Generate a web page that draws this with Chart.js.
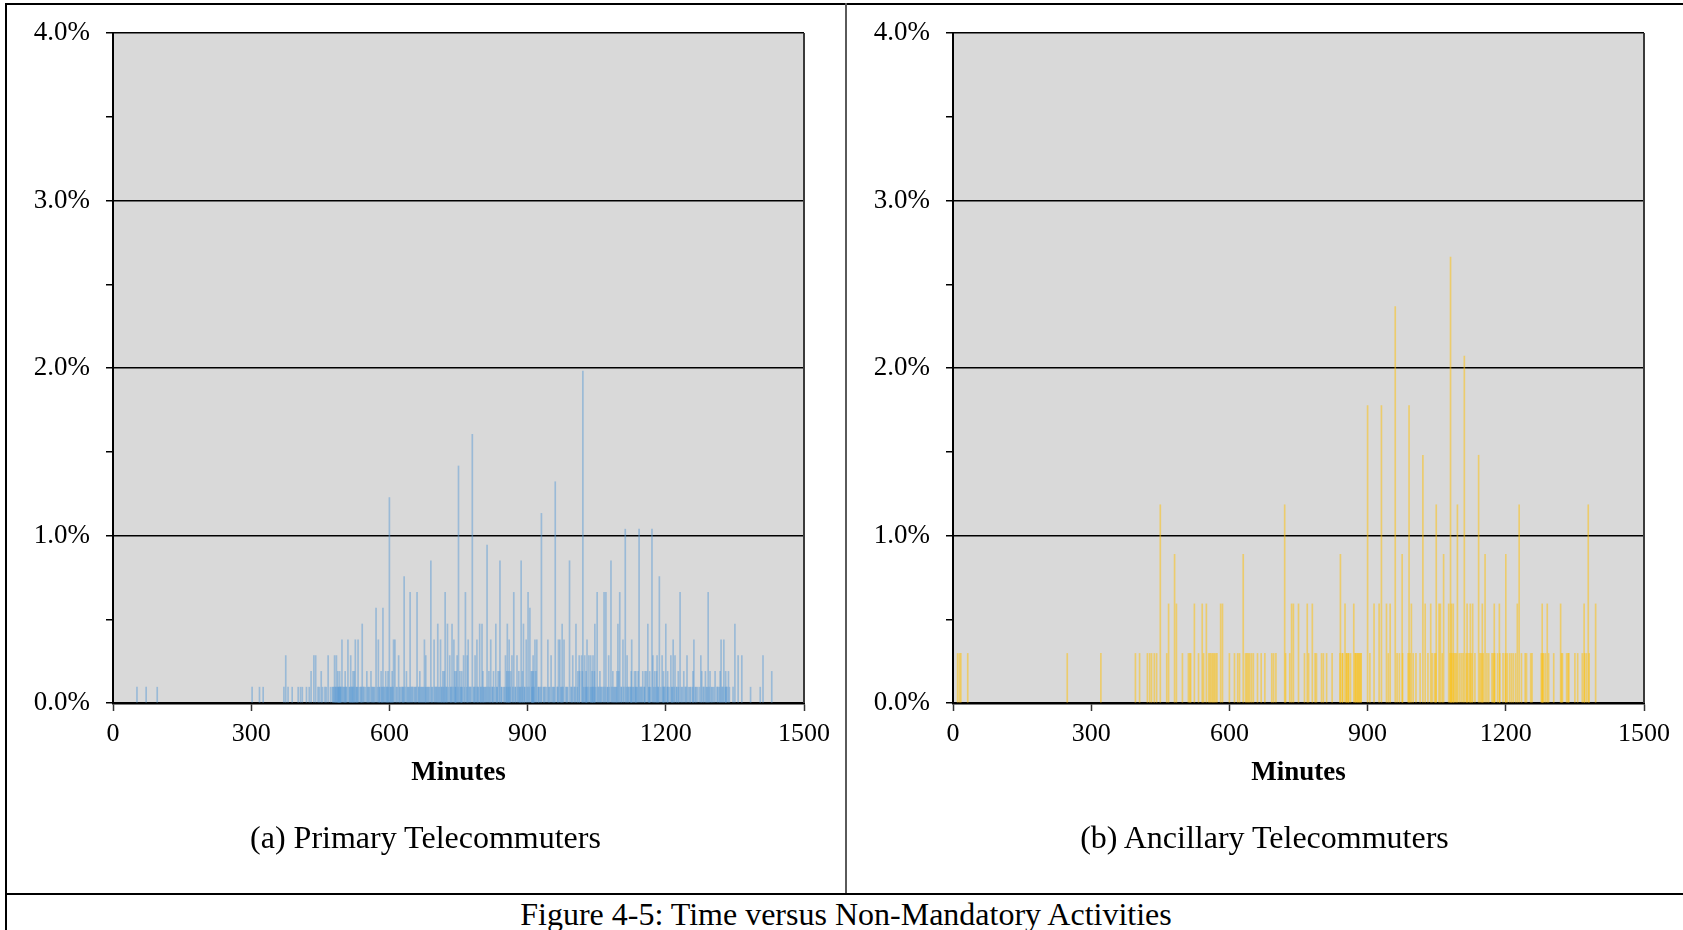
<!DOCTYPE html>
<html>
<head>
<meta charset="utf-8">
<script src="https://cdn.jsdelivr.net/npm/chart.js@4/dist/chart.umd.min.js"></script>
<style>
    body { margin: 0; background: #fff; }
    #page { position: relative; width: 1683px; height: 930px; overflow: hidden; font-family: 'Liberation Serif', 'Times New Roman', serif; }
    canvas { position: absolute; top: 0; }
    .rule { position: absolute; background: #000; z-index: 2; }
    .label { position: absolute; text-align: center; font-size: 32px; line-height: 32px; color: #000; z-index: 2; }
</style>
</head>
<body>
<div id="page">
    <canvas id="primary-chart" width="846" height="789" style="left: 0;"></canvas>
    <canvas id="ancillary-chart" width="837" height="789" style="left: 846px;"></canvas>

    <div class="rule" style="left: 5px; top: 3px; width: 1678px; height: 1.5px;"></div>
    <div class="rule" style="left: 5px; top: 3px; width: 1.5px; height: 927px;"></div>
    <div class="rule" style="left: 845px; top: 3px; width: 2px; height: 891px; background: #5a5a5a;"></div>
    <div class="rule" style="left: 5px; top: 893px; width: 1678px; height: 2px;"></div>

    <div class="label" style="left: 5px; top: 821px; width: 841px;">(a) Primary Telecommuters</div>
    <div class="label" style="left: 846px; top: 821px; width: 837px;">(b) Ancillary Telecommuters</div>
    <div class="label" style="left: 346px; top: 898px; width: 1000px;">Figure 4-5: Time versus Non-Mandatory Activities</div>
</div>

<script>
// axis ticks
const minuteTicks = [0, 300, 600, 900, 1200, 1500];
const pctTicks = [0, 0.5, 1, 1.5, 2, 2.5, 3, 3.5, 4];

// Primary telecommuters: respondents per minute (sample ~1060)
const primarySample = 1060;
const primaryOnes = [
    52, 72, 96, 302, 318, 326, 371, 380, 389, 402, 407, 411, 420, 426, 445, 448, 455, 460, 463, 472, 476,
    478, 480, 483, 484, 487, 489, 490, 491, 493, 494, 495, 499, 501, 503, 506, 507, 513, 514, 517, 519, 520,
    523, 528, 529, 531, 535, 538, 539, 543, 545, 548, 553, 555, 557, 562, 564, 566, 568, 574, 578, 579, 583,
    585, 588, 590, 594, 595, 598, 602, 603, 605, 608, 615, 617, 622, 624, 627, 629, 630, 634, 639, 641, 643,
    647, 649, 651, 654, 656, 658, 663, 664, 668, 670, 672, 674, 678, 681, 683, 685, 687, 692, 694, 699, 701,
    703, 707, 709, 713, 714, 718, 723, 724, 728, 733, 734, 738, 743, 744, 749, 754, 756, 758, 763, 768, 773,
    775, 777, 783, 784, 788, 792, 793, 798, 799, 804, 806, 808, 810, 814, 818, 823, 824, 828, 833, 834, 836,
    843, 844, 848, 850, 854, 858, 862, 863, 868, 873, 874, 879, 883, 884, 888, 893, 894, 899, 903, 909, 911,
    914, 918, 923, 924, 926, 929, 934, 936, 938, 941, 946, 948, 954, 956, 958, 964, 966, 972, 974, 977, 983,
    985, 987, 994, 996, 1001, 1003, 1008, 1009, 1013, 1019, 1022, 1026, 1028, 1031, 1036, 1039, 1041, 1044,
    1048, 1053, 1055, 1059, 1061, 1064, 1068, 1073, 1074, 1078, 1083, 1087, 1089, 1091, 1093, 1098, 1103,
    1104, 1109, 1114, 1118, 1119, 1122, 1124, 1128, 1130, 1134, 1136, 1138, 1144, 1146, 1148, 1153, 1154,
    1158, 1163, 1164, 1167, 1174, 1176, 1178, 1183, 1184, 1189, 1194, 1196, 1198, 1203, 1205, 1208, 1213,
    1214, 1218, 1223, 1224, 1228, 1234, 1236, 1242, 1244, 1249, 1252, 1254, 1258, 1264, 1266, 1269, 1273,
    1281, 1283, 1288, 1290, 1294, 1299, 1301, 1304, 1311, 1313, 1316, 1322, 1324, 1329, 1331, 1333, 1338,
    1346, 1384, 1405
];
const primaryTwos = [
    430, 452, 488, 492, 504, 521, 524, 551, 560, 582, 592, 597, 606, 637, 666, 716, 719, 742, 745, 753, 757,
    803, 816, 826, 836, 839, 855, 859, 863, 881, 889, 908, 910, 913, 918, 1009, 1013, 1019, 1027, 1040, 1045,
    1057, 1085, 1094, 1098, 1125, 1132, 1135, 1140, 1150, 1155, 1158, 1165, 1176, 1180, 1195, 1204, 1227,
    1239, 1259, 1278, 1286, 1296, 1307, 1318, 1330, 1336, 1430
];
const primaryThrees = [
    375, 436, 440, 467, 481, 485, 516, 620, 679, 731, 747, 761, 769, 786, 852, 866, 877, 912, 951, 998, 1012,
    1017, 1024, 1033, 1037, 1042, 1076, 1116, 1172, 1181, 1192, 1211, 1220, 1246, 1276, 1357, 1365, 1411
];
const primaryFours = [
    497, 510, 526, 532, 576, 609, 612, 676, 697, 711, 740, 771, 790, 820, 860, 897, 916, 920, 944, 967, 970,
    979, 1029, 1107, 1126, 1216, 1261, 1320, 1326
];
const primaryFives = [541, 705, 726, 736, 796, 801, 831, 856, 891, 975, 1005, 1046, 1096, 1161, 1200, 1350];
const primaryTall = [
    [571, 6], [586, 6], [905, 6], [645, 7], [660, 7], [721, 7], [765, 7], [870, 7], [901, 7], [1051, 7],
    [1066, 7], [1070, 7], [1100, 7], [1231, 7], [1292, 7], [632, 8], [1186, 8], [690, 9], [840, 9], [886, 9],
    [991, 9], [1081, 9], [812, 10], [1112, 11], [1142, 11], [1170, 11], [930, 12], [600, 13], [960, 14],
    [750, 15], [780, 17], [1020, 21]
];

// Ancillary telecommuters: respondents per minute (sample ~338)
const ancillarySample = 338;
const ancillaryOnes = [
    10, 14, 17, 32, 248, 321, 396, 405, 422, 427, 431, 437, 442, 464, 498, 511, 514, 516, 533, 544, 555, 558,
    561, 564, 567, 570, 573, 600, 611, 618, 622, 635, 638, 641, 644, 648, 652, 661, 669, 677, 692, 696, 701,
    722, 731, 763, 772, 786, 789, 800, 804, 811, 823, 840, 845, 846, 854, 855, 858, 859, 863, 873, 874, 877,
    878, 881, 882, 885, 886, 905, 945, 964, 969, 976, 988, 992, 999, 1005, 1014, 1031, 1040, 1045, 1048,
    1062, 1079, 1083, 1087, 1090, 1093, 1099, 1103, 1107, 1114, 1118, 1122, 1126, 1133, 1144, 1147, 1151,
    1159, 1163, 1170, 1173, 1176, 1182, 1187, 1194, 1199, 1203, 1208, 1212, 1216, 1221, 1234, 1242, 1245,
    1254, 1257, 1277, 1280, 1282, 1286, 1293, 1304, 1321, 1323, 1332, 1335, 1337, 1350, 1356, 1366, 1371,
    1375, 1381
];
const ancillaryTwos = [
    468, 485, 524, 541, 550, 581, 585, 735, 739, 750, 769, 780, 851, 870, 914, 925, 941, 949, 995, 1025, 1037,
    1055, 1058, 1076, 1082, 1086, 1116, 1123, 1128, 1149, 1175, 1186, 1225, 1279, 1290, 1319, 1370, 1395
];
const ancillaryThrees = [481, 630, 841, 975, 1065, 1155, 1200];
const ancillaryFours = [450, 720, 1049, 1095, 1229, 1379];
const ancillaryTall = [[1020, 5], [1141, 5], [900, 6], [930, 6], [990, 6], [1110, 7], [960, 8], [1080, 9]];

// merge the count lists into {x: minute, y: percent}
function buildPoints(ones, twos, threes, fours, fives, tall, sample) {
    const counts = new Map();
    const put = (m, c) => counts.set(m, Math.max(counts.get(m) || 0, c));
    ones.forEach(m => put(m, 1));
    twos.forEach(m => put(m, 2));
    threes.forEach(m => put(m, 3));
    fours.forEach(m => put(m, 4));
    fives.forEach(m => put(m, 5));
    tall.forEach(([m, c]) => put(m, c));
    return [...counts.entries()]
        .sort((a, b) => a[0] - b[0])
        .map(([m, c]) => ({ x: m, y: c / sample * 100 }));
}

// grey plot background + right edge
const plotFrame = {
    id: 'plotFrame',
    beforeDraw(chart) {
        const { ctx, chartArea: a } = chart;
        ctx.save();
        ctx.fillStyle = '#d9d9d9';
        ctx.fillRect(a.left, a.top, a.right - a.left, a.bottom - a.top);
        ctx.restore();
    },
    afterDraw(chart) {
        const { ctx, chartArea: a } = chart;
        ctx.save();
        ctx.strokeStyle = '#3a3a3a';
        ctx.lineWidth = 2;
        ctx.beginPath();
        ctx.moveTo(a.right, a.top);
        ctx.lineTo(a.right, a.bottom);
        ctx.stroke();
        ctx.restore();
    }
};

const serif = "'Liberation Serif', 'Times New Roman', serif";

function makeChart(canvasId, points, color, yAxisWidth, padRight) {
    return new Chart(document.getElementById(canvasId), {
        type: 'bar',
        data: {
            datasets: [{
                data: points,
                backgroundColor: color,
                borderWidth: 0,
                barThickness: 1
            }]
        },
        options: {
            responsive: false,
            maintainAspectRatio: false,
            animation: false,
            layout: { padding: { top: 33, right: padRight, bottom: 0, left: 0 } },
            plugins: {
                legend: { display: false },
                tooltip: { enabled: false }
            },
            scales: {
                x: {
                    type: 'linear',
                    min: 0,
                    max: 1500,
                    offset: false,
                    afterBuildTicks: s => { s.ticks = minuteTicks.map(v => ({ value: v })); },
                    afterFit: s => { s.height = 86; },
                    grid: { offset: false, drawOnChartArea: false, tickLength: 8, tickColor: '#333', tickWidth: 1.5 },
                    border: { color: '#000', width: 2.5 },
                    ticks: {
                        color: '#000',
                        padding: 8,
                        maxRotation: 0,
                        autoSkip: false,
                        font: { family: serif, size: 26 },
                        callback: v => String(v)
                    },
                    title: {
                        display: true,
                        text: 'Minutes',
                        color: '#000',
                        padding: 0,
                        font: { family: serif, size: 27, weight: 'bold' }
                    }
                },
                y: {
                    min: 0,
                    max: 4,
                    afterBuildTicks: s => { s.ticks = pctTicks.map(v => ({ value: v })); },
                    afterFit: s => { s.width = yAxisWidth; },
                    grid: {
                        color: c => (c.tick && c.tick.value % 1 === 0 ? '#000' : 'rgba(0,0,0,0)'),
                        lineWidth: 1.5,
                        tickLength: 7,
                        tickColor: '#000',
                        tickWidth: 1.5
                    },
                    border: { color: '#000', width: 2 },
                    ticks: {
                        color: '#000',
                        padding: 16,
                        autoSkip: false,
                        font: { family: serif, size: 27 },
                        callback: v => (v % 1 === 0 ? v.toFixed(1) + '%' : '')
                    }
                }
            }
        },
        plugins: [plotFrame]
    });
}

makeChart('primary-chart',
    buildPoints(primaryOnes, primaryTwos, primaryThrees, primaryFours, primaryFives, primaryTall, primarySample),
    'rgba(91, 155, 213, 0.5)', 113, 42);

makeChart('ancillary-chart',
    buildPoints(ancillaryOnes, ancillaryTwos, ancillaryThrees, ancillaryFours, [], ancillaryTall, ancillarySample),
    'rgba(255, 192, 0, 0.5)', 107, 39);
</script>
</body>
</html>
